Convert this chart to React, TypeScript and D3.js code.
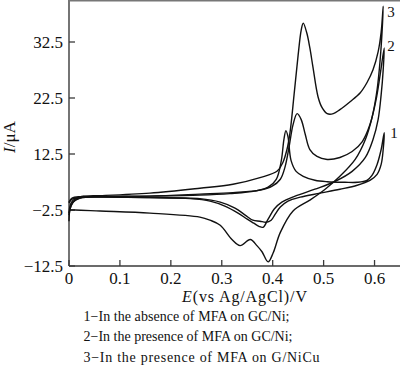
import React, { useEffect, useRef } from 'react';
import * as d3 from 'd3';

const width = 400;
const height = 368;

// axis ticks as printed on the figure
const xTicks = [0, 0.1, 0.2, 0.3, 0.4, 0.5, 0.6];
const yTicks = [-12.5, -2.5, 12.5, 22.5, 32.5];

// [E / V, I / uA] - forward sweep to 0.62 V, then reverse sweep back to 0
const curve1: [number, number][] = [
  [0, -3.4], [0.004, -1.44], [0.012, 0.15], [0.026, 0.82], [0.061, 1.08], [0.159, 1.22],
  [0.257, 1.48], [0.316, 1.88], [0.365, 2.54], [0.391, 3.6], [0.407, 5.73], [0.417, 10.8],
  [0.422, 15.08], [0.426, 16.68], [0.43, 15.6], [0.436, 10.8], [0.446, 7.85], [0.46, 6.53],
  [0.483, 5.46], [0.507, 5.07], [0.542, 4.93], [0.566, 4.93], [0.585, 5.46], [0.595, 6.79],
  [0.605, 9.71], [0.613, 13.3], [0.619, 16.3],
  [0.617, 13.3], [0.613, 9.71], [0.605, 7.06], [0.591, 5.46], [0.566, 4.14], [0.532, 3.07],
  [0.493, 2.01], [0.454, 0.95], [0.43, -0.11], [0.415, -1.7], [0.405, -3.23], [0.397, -4.32],
  [0.387, -4.68], [0.375, -4.5], [0.361, -4.32], [0.346, -3.41], [0.326, -1.97], [0.297, -0.38],
  [0.257, 0.55], [0.159, 0.82], [0.061, 0.95], [0.022, 0.82], [0.006, 0.42], [0, -0.64],
];

const curve2: [number, number][] = [
  [0, -4.5], [0.002, -2.23], [0.008, -0.38], [0.022, 0.69], [0.061, 1.08], [0.159, 1.22],
  [0.257, 1.75], [0.322, 2.15], [0.375, 2.81], [0.399, 3.87], [0.415, 5.73], [0.424, 8.91],
  [0.432, 13.66], [0.44, 17.75], [0.448, 19.7], [0.456, 18.64], [0.464, 15.97], [0.473, 13.3],
  [0.487, 11.84], [0.507, 11.04], [0.532, 11.57], [0.556, 12.94], [0.576, 14.72], [0.591, 17.75],
  [0.603, 22.2], [0.611, 26.64], [0.619, 31.43],
  [0.617, 27.53], [0.613, 23.09], [0.607, 18.64], [0.597, 15.08], [0.582, 11.57], [0.556, 7.85],
  [0.523, 5.2], [0.483, 3.07], [0.444, 1.22], [0.418, -0.38], [0.403, -2.23], [0.391, -4.14],
  [0.381, -5.59], [0.373, -5.41], [0.363, -4.86], [0.35, -4.14], [0.332, -3.05], [0.306, -1.44],
  [0.277, -0.11], [0.238, 0.55], [0.159, 0.82], [0.061, 0.95], [0.022, 1.08], [0.006, 0.69],
  [0, -0.38],
];

const curve3: [number, number][] = [
  [0, -3.05], [0.004, -0.64], [0.014, 0.69], [0.031, 1.22], [0.061, 1.35], [0.159, 2.01],
  [0.257, 3.34], [0.322, 4.4], [0.375, 6.18], [0.409, 7.93], [0.42, 10.24], [0.428, 13.3],
  [0.434, 16.33], [0.442, 23.09], [0.45, 30.19], [0.456, 34.63], [0.46, 35.87], [0.467, 34.1],
  [0.473, 31.43], [0.479, 28.06], [0.489, 22.73], [0.497, 20.77], [0.507, 19.7], [0.519, 19.7],
  [0.532, 20.42], [0.552, 21.84], [0.572, 23.44], [0.585, 25.22], [0.597, 27.53], [0.607, 30.72],
  [0.613, 34.28], [0.617, 38.9],
  [0.615, 34.63], [0.611, 29.3], [0.605, 23.97], [0.595, 18.99], [0.582, 15.08], [0.562, 11.04],
  [0.532, 6.53], [0.503, 3.07], [0.473, 0.15], [0.44, -2.68], [0.415, -6.5], [0.401, -10.14],
  [0.391, -11.77], [0.379, -9.95], [0.369, -8.86], [0.356, -7.77], [0.336, -8.86], [0.32, -7.77],
  [0.297, -5.23], [0.277, -4.32], [0.257, -3.77], [0.159, -3.05], [0.061, -2.68], [0.012, -2.5],
  [0, -2.5],
];

const curves = [curve1, curve2, curve3];

// curve numbers placed next to the anodic end of each sweep
const curveLabels = ['1', '2', '3'];
const curveLabelAt: [number, number][] = [[0.631, 15.4], [0.625, 30.9], [0.625, 37.0]];

const legendLines = [
  '1\u2212In the absence of MFA on GC/Ni;',
  '2\u2212In the presence of MFA on GC/Ni;',
  '3\u2212In the presence of MFA on G/NiCu',
];
const legendWidths = [206, 209, 236];

const serif = "'Liberation Serif', 'Times New Roman', serif";

const CVChart: React.FC = () => {
  const svgRef = useRef<SVGSVGElement>(null);

  useEffect(() => {
    if (!svgRef.current) return;
    const svg = d3.select(svgRef.current);
    svg.selectAll('*').remove();

    const left = 69;
    const right = 400;
    const bottom = 266;
    const step = 56; // printed ticks are evenly spaced even though labels are not

    const x = d3.scaleLinear().domain([0, 0.65]).range([left, right]);
    const y = d3
      .scaleLinear()
      .domain(yTicks)
      .range(yTicks.map((_, i) => bottom - i * step));

    const axisColor = '#3a3a3a';

    // frame: left, bottom and top
    svg.append('line').attr('x1', left).attr('x2', left).attr('y1', 0).attr('y2', bottom)
      .style('stroke', axisColor).style('stroke-width', 1.4);
    svg.append('line').attr('x1', left).attr('x2', right).attr('y1', bottom).attr('y2', bottom)
      .style('stroke', axisColor).style('stroke-width', 1.4);
    svg.append('line').attr('x1', left).attr('x2', right).attr('y1', 0.7).attr('y2', 0.7)
      .style('stroke', '#777').style('stroke-width', 1.4);

    // x ticks (inward)
    const xt = svg.append('g');
    xt.selectAll('line').data(xTicks).enter().append('line')
      .attr('x1', (d) => x(d)).attr('x2', (d) => x(d))
      .attr('y1', bottom).attr('y2', bottom - 6)
      .style('stroke', axisColor).style('stroke-width', 1.3);
    xt.selectAll('text').data(xTicks).enter().append('text')
      .attr('x', (d) => x(d)).attr('y', bottom + 17.5)
      .attr('text-anchor', 'middle')
      .style('font-family', serif).style('font-size', '17px').style('fill', '#111')
      .text((d) => String(d));

    // y ticks (inward)
    const yt = svg.append('g');
    yt.selectAll('line').data(yTicks).enter().append('line')
      .attr('x1', left).attr('x2', left + 6)
      .attr('y1', (d) => y(d)).attr('y2', (d) => y(d))
      .style('stroke', axisColor).style('stroke-width', 1.3);
    yt.selectAll('text').data(yTicks).enter().append('text')
      .attr('x', left - 6).attr('y', (d) => y(d) + 6)
      .attr('text-anchor', 'end')
      .style('font-family', serif).style('font-size', '17px').style('fill', '#111')
      .text((d) => (d < 0 ? '\u2212' + Math.abs(d) : String(d)));

    // axis titles
    const xTitle = svg.append('text')
      .attr('x', 182).attr('y', 302)
      .attr('textLength', 125)
      .attr('lengthAdjust', 'spacing')
      .style('font-family', serif).style('font-size', '16px').style('fill', '#111');
    xTitle.append('tspan').style('font-style', 'italic').text('E');
    xTitle.append('tspan').text('(vs Ag/AgCl)/V');

    const yTitle = svg.append('text')
      .attr('transform', 'translate(15,137) rotate(-90)')
      .attr('text-anchor', 'middle')
      .style('font-family', serif).style('font-size', '17px').style('fill', '#111');
    yTitle.append('tspan').style('font-style', 'italic').text('I');
    yTitle.append('tspan').text('/\u03bcA');

    // the voltammograms
    const line = d3
      .line<[number, number]>()
      .x((d) => x(d[0]))
      .y((d) => y(d[1]))
      .curve(d3.curveCatmullRom.alpha(0.5));

    svg.append('g').selectAll('path').data(curves).enter().append('path')
      .attr('d', (d) => line(d) || '')
      .style('fill', 'none')
      .style('stroke', '#111')
      .style('stroke-width', 1.4)
      .style('stroke-linejoin', 'round');

    // curve numbers
    svg.append('g').selectAll('text').data(curveLabels).enter().append('text')
      .attr('x', (_, i) => x(curveLabelAt[i][0]))
      .attr('y', (_, i) => y(curveLabelAt[i][1]))
      .style('font-family', serif).style('font-size', '15px').style('fill', '#111')
      .text((d) => d);

    // legend under the chart
    svg.append('g').selectAll('text').data(legendLines).enter().append('text')
      .attr('x', 83.5)
      .attr('y', (_, i) => 321 + i * 20.3)
      .attr('textLength', (_, i) => legendWidths[i])
      .attr('lengthAdjust', 'spacing')
      .style('font-family', serif).style('font-size', '14px').style('fill', '#111')
      .text((d) => d);
  }, []);

  return (
    <svg
      ref={svgRef}
      width={width}
      height={height}
      style={{ position: 'absolute', left: 0, top: 0, display: 'block', background: '#fff' }}
    />
  );
};

export default function App() {
  return <CVChart />;
}
